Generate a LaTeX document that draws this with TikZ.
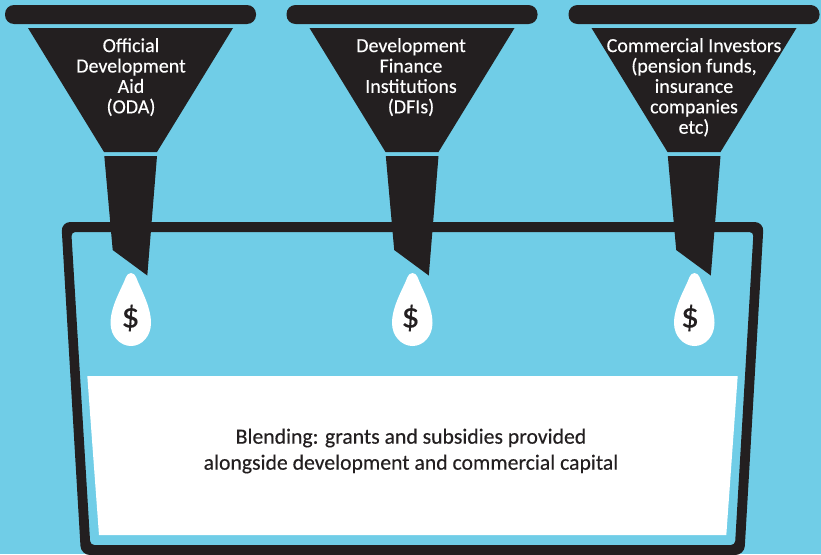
\documentclass[tikz,border=0pt]{standalone}
\usepackage{fontspec}
\setmainfont[FakeBold=0.3]{Carlito}
\newfontfamily\medfont[FakeBold=0.3]{Carlito}
\definecolor{skyb}{HTML}{70CDE7}
\definecolor{inkk}{HTML}{231F20}
\tikzset{
  x=1pt,y=-1pt,
  ink/.style={fill=inkk,draw=none},
  funnellabel/.style={text=white,align=center,font=\medfont\fontsize{20}{20.4}\selectfont,inner sep=0pt,anchor=north},
  dollarsign/.style={text=inkk,font=\medfont\fontsize{36}{36}\selectfont,inner sep=0pt},
  capt/.style={text=inkk,align=center,font=\medfont\fontsize{21.7}{26}\selectfont,inner sep=0pt},
}
\newcommand{\funnelat}[1]{%
  \begin{scope}[xshift=#1]
    \fill[ink,rounded corners=9] (5,5) rectangle (256,24);
    \fill[ink] (28,28) -- (233,28) -- (157,152) -- (104,152) -- cycle;
    \fill[ink] (104.3,156) -- (157,156) -- (147.3,275.5) -- (112.7,250) -- cycle;
    \fill[white] (131,273)
      .. controls (133.5,273) and (135,275) .. (136,277)
      .. controls (140,288) and (151,306) .. (151,323)
      .. controls (151,336) and (142,346) .. (131,346)
      .. controls (120,346) and (110.5,336) .. (110.5,323)
      .. controls (110.5,306) and (122,288) .. (126,277)
      .. controls (127,275) and (128.5,273) .. (131,273) -- cycle;
  \end{scope}}
\begin{document}
\begin{tikzpicture}
\useasboundingbox (0,0) rectangle (821,554);
\fill[skyb] (0,0) rectangle (821,554);
% white pool
\fill[white] (87.3,376) -- (737.7,376) -- (726.3,535) -- (99,535) -- cycle;
% bucket
\fill[inkk,even odd rule]
  [rounded corners=9] (61.3,222) -- (81,555) -- (744.3,555) -- (763.7,222) -- cycle
  [rounded corners=4] (71.3,232) -- (90.3,545) -- (735,545) -- (753.5,232) -- cycle;
% funnels and drops
\funnelat{0}
\funnelat{281.5}
\funnelat{563.5}
% funnel labels
\node[funnellabel] (oda) at (131,38) {Official\\Development\\Aid\\(ODA)};
\node[funnellabel] (dfi) at (411,38) {Development\\Finance\\Institutions\\(DFIs)};
\node[funnellabel] (inv) at (694,38) {Commercial Investors\\(pension funds,\\insurance\\companies\\etc)};
% dollars
\node[dollarsign] (d1) at (130.5,318) {\$};
\node[dollarsign] (d2) at (410.5,318) {\$};
\node[dollarsign] (d3) at (690,318) {\$};
% caption
\node[capt] (cap) at (411,451) {Blending: grants and subsidies provided\\alongside development and commercial capital};
\end{tikzpicture}
\end{document}
